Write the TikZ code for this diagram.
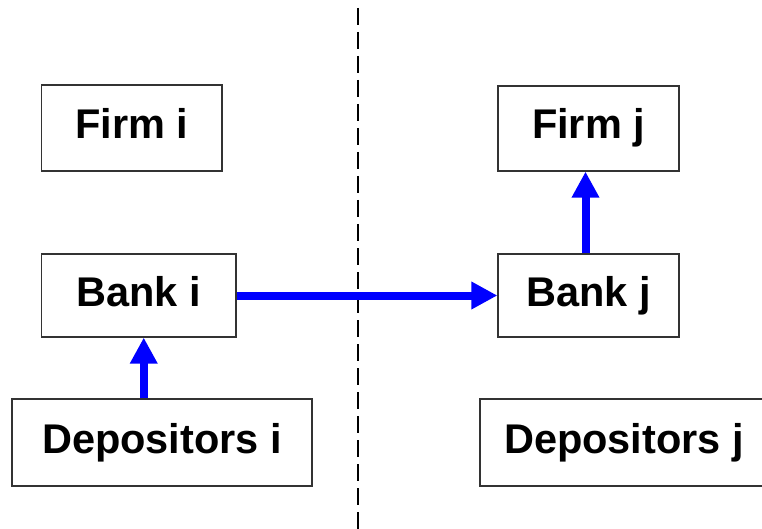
\documentclass[tikz,border=0pt]{standalone}
\usepackage{fontspec}
\setmainfont{Liberation Sans}
\usetikzlibrary{arrows.meta}

\begin{document}
\begin{tikzpicture}[x=1pt,y=-1pt,
    agent/.style={rectangle,draw=black!80,line width=1.2pt,font=\fontsize{41.5}{48}\selectfont\bfseries,
                  text height=31pt,text depth=10pt,inner sep=0pt},
    flow/.style={draw=blue,line width=8pt,-{Triangle[length=26pt,width=26pt]}}]
    \useasboundingbox (0,0) rectangle (762,529);
    % dividing line between the two regions
    \draw[line width=2pt,dash pattern=on 17pt off 7pt] (357.7,8) coordinate (top) -- (357.7,529) coordinate (bottom);
    \node[agent,minimum width=180.5pt,minimum height=86pt] (firmi) at (131.75,128) {Firm i};
    \node[agent,minimum width=181pt,minimum height=85pt] (firmj) at (588.5,128.5) {Firm j};
    \node[agent,minimum width=194.5pt,minimum height=83pt] (banki) at (138.75,295.5) {Bank i};
    \node[agent,minimum width=181pt,minimum height=83pt] (bankj) at (588.5,295.5) {Bank j};
    \node[agent,minimum width=300pt,minimum height=87pt] (depi) at (162,442.5) {Depositors i};
    \node[agent,minimum width=288pt,minimum height=87pt] (depj) at (624,442.5) {Depositors j};
    \path[flow]
        ([xshift=5pt]banki.south |- depi.north) -- ([xshift=5pt]banki.south);
    \path[flow] (banki.east) -- (bankj.west);
    \path[flow] ([xshift=-3pt]bankj.north) -- ([xshift=-3pt]firmj.south);
\end{tikzpicture}
\end{document}
